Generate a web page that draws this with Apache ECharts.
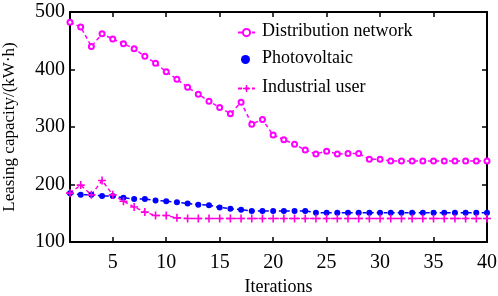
<!DOCTYPE html>
<html><head><meta charset="utf-8">
<script src="https://cdn.jsdelivr.net/npm/echarts@6/dist/echarts.min.js"></script>
<style>html,body{margin:0;padding:0;background:#fff}#c{width:498px;height:296px}</style>
</head><body><div id="c"></div>
<script>
const iterations = Array.from({length: 40}, (_, i) => i + 1);
const xTickLabels = [5, 10, 15, 20, 25, 30, 35, 40];
const yTickLabels = [100, 200, 300, 400, 500];
const seriesNames = ['Distribution network', 'Photovoltaic', 'Industrial user'];
const distribution = [482, 474, 440, 462, 453, 445, 436, 423, 411, 396, 383, 369, 357, 345, 334, 323, 343, 305, 313, 286,
  278, 270, 260, 253, 258, 253, 254, 254, 244, 244, 241, 241, 241, 241, 241, 241, 241, 241, 241, 241];
const photovoltaic = [185, 182, 182, 180, 180, 177, 175, 175, 172, 171, 169, 167, 165, 164, 160, 158, 156, 154, 154, 154,
  154, 154, 154, 151, 151, 151, 151, 151, 151, 151, 151, 151, 151, 151, 151, 151, 151, 151, 151, 151];
const industrial = [185, 199, 182, 207, 182, 171, 161, 152, 146, 146, 142, 141, 141, 141, 141, 141, 141, 141, 141, 141,
  141, 141, 141, 141, 141, 141, 141, 141, 141, 141, 141, 141, 141, 141, 141, 141, 141, 141, 141, 141];

const font = 'Liberation Serif';
const plus = 'path://M4,0 H6 V4 H10 V6 H6 V10 H4 V6 H0 V4 H4 Z';
const pair = (arr) => iterations.map((x, i) => [x, arr[i]]);
const axisLine = {show: true, lineStyle: {color: '#000', width: 2}};
const legendRowTops = [28, 55, 84];

const chart = echarts.init(document.getElementById('c'));
chart.setOption({
  backgroundColor: '#fff',
  animation: false,
  textStyle: {fontFamily: font},
  grid: {left: 70, right: 11, top: 12, bottom: 54, outerBoundsMode: 'none', containLabel: false},
  legend: seriesNames.map((n, i) => ({
    left: 237, top: legendRowTops[i], itemWidth: 17, itemHeight: 9, padding: 0,
    formatter: () => '',
    data: [i === 1 ? {name: n, icon: 'circle'} : n]
  })),
  graphic: seriesNames.map((n, i) => ({
    type: 'text', left: 262, top: legendRowTops[i] + 4.5 - 10, silent: true,
    style: {text: n, fill: '#000', font: "18px 'Liberation Serif'"}
  })),
  xAxis: [{
    type: 'value', min: 1, max: 40,
    name: 'Iterations', nameLocation: 'middle', nameGap: 33,
    nameTextStyle: {fontFamily: font, fontSize: 18, color: '#000'},
    axisLine: axisLine, splitLine: {show: false},
    axisTick: {inside: true, length: 5, customValues: xTickLabels, lineStyle: {color: '#000', width: 1.5}},
    axisLabel: {customValues: xTickLabels, fontFamily: font, fontSize: 20, color: '#000', margin: 11}
  }, {
    type: 'value', min: 1, max: 40, position: 'top',
    axisLine: axisLine, splitLine: {show: false},
    axisTick: {inside: true, length: 5, customValues: xTickLabels, lineStyle: {color: '#000', width: 1.5}},
    axisLabel: {show: false}
  }],
  yAxis: [{
    type: 'value', min: 100, max: 500, interval: 100,
    name: 'Leasing capacity/(kW·h)', nameLocation: 'middle', nameGap: 52,
    nameTextStyle: {fontFamily: font, fontSize: 17, color: '#000'},
    axisLine: axisLine, splitLine: {show: false},
    axisTick: {inside: true, length: 5, lineStyle: {color: '#000', width: 1.5}},
    axisLabel: {fontFamily: font, fontSize: 20, color: '#000', margin: 5}
  }, {
    type: 'value', min: 100, max: 500, interval: 100, position: 'right',
    axisLine: axisLine, splitLine: {show: false},
    axisTick: {inside: true, length: 5, lineStyle: {color: '#000', width: 1.5}},
    axisLabel: {show: false}
  }],
  series: [{
    name: seriesNames[0], type: 'line', data: pair(distribution),
    symbol: 'emptyCircle', symbolSize: 5, showAllSymbol: true, color: '#ff00ff',
    lineStyle: {color: '#ff00ff', width: 1.5, type: [4, 3]},
    itemStyle: {color: '#ff00ff', borderWidth: 1.5}
  }, {
    name: seriesNames[1], type: 'line', data: pair(photovoltaic),
    symbol: 'circle', symbolSize: 6, showAllSymbol: true, color: '#0000ff',
    lineStyle: {color: '#0000ff', width: 1.5, type: [4, 3]},
    itemStyle: {color: '#0000ff'}
  }, {
    name: seriesNames[2], type: 'line', data: pair(industrial),
    symbol: plus, symbolSize: 8, showAllSymbol: true, color: '#ff00dd',
    lineStyle: {color: '#ff00dd', width: 1.5, type: [4, 3]},
    itemStyle: {color: '#ff00dd'}
  }]
});
</script></body></html>
